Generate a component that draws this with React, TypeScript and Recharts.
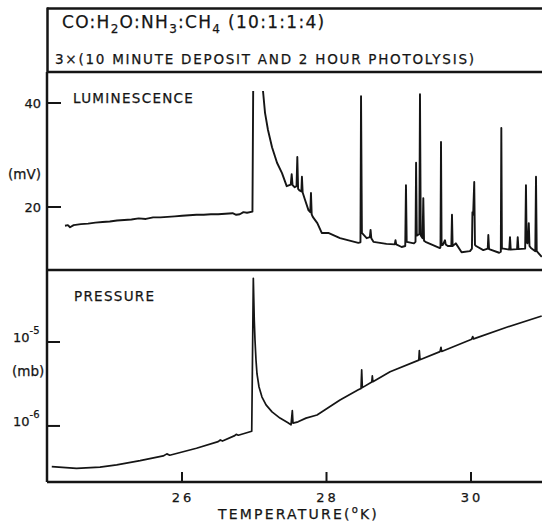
import React from 'react';
import { LineChart, Line, XAxis, YAxis } from 'recharts';

const FONT = '"DejaVu Sans", "Liberation Sans", sans-serif';
const INK = '#151515';

// Temperature axis (K)
const xDomain: [number, number] = [24.131, 30.983];
const xTicks = [26, 28, 30];
const xTickLabels = ['26', '28', '30'];

// Luminescence panel (mV)
const lumDomain: [number, number] = [7.88, 45.96];
const lumTicks = [20, 40];
const lumTemp = [
  24.38, 24.42, 24.45, 24.5, 24.55, 24.6, 24.7, 24.8, 24.9, 25.0, 25.1, 25.2, 25.3, 25.4, 25.5,
  25.6, 25.7, 25.8, 25.9, 26.0, 26.1, 26.2, 26.3, 26.4, 26.5, 26.6, 26.7, 26.75, 26.8, 26.85,
  26.9, 26.975,
  26.985, 27.05, 27.121, 27.149, 27.19, 27.246, 27.315, 27.384, 27.449,
  27.505, 27.518, 27.53, 27.56, 27.585, 27.596, 27.607, 27.625, 27.652, 27.66, 27.67, 27.7,
  27.75, 27.775, 27.785, 27.795, 27.81, 27.873, 27.934, 28.025, 28.187, 28.44,
  28.47, 28.478, 28.49, 28.556, 28.6, 28.61, 28.62, 28.65, 28.83, 28.945, 28.955, 28.965,
  29.04, 29.09, 29.1, 29.11, 29.21, 29.232, 29.24, 29.25, 29.285, 29.294, 29.305, 29.33, 29.34,
  29.35, 29.37, 29.57, 29.578, 29.585, 29.593, 29.61, 29.64, 29.65, 29.68, 29.728, 29.737,
  29.746, 29.79, 29.87, 29.986, 30.013, 30.02, 30.03, 30.045, 30.055, 30.07, 30.17, 30.232,
  30.24, 30.25, 30.39, 30.413, 30.42, 30.428, 30.45, 30.53, 30.54, 30.55, 30.638, 30.647,
  30.657, 30.75, 30.761, 30.77, 30.78, 30.79, 30.8, 30.81, 30.83, 30.89, 30.9, 30.91, 30.98,
];
const lumMv: (number | null)[] = [
  16.4, 16.5, 16.1, 16.5, 16.6, 16.7, 16.8, 17.0, 17.1, 17.2, 17.4, 17.5, 17.6, 17.8, 17.7,
  18.0, 18.0, 18.1, 18.2, 18.3, 18.4, 18.5, 18.5, 18.6, 18.6, 18.7, 18.8, 18.5, 18.6, 19.0,
  18.9, 19.1,
  42.3, null, 42.3, 38.1, 34.8, 31.5, 28.5, 26.5, 24.0,
  24.3, 26.3, 24.2, 23.8, 24.0, 29.6, 23.5, 23.2, 23.0, 25.8, 22.8, 21.5,
  19.4, 19.0, 22.7, 18.6, 18.1, 16.9, 15.0, 15.0, 14.0, 13.1,
  13.2, 41.3, 15.0, 14.0, 14.2, 15.6, 14.0, 13.3, 12.9, 12.8, 13.6, 12.8,
  12.3, 12.5, 24.2, 13.3, 13.0, 13.3, 28.5, 14.5, 14.8, 41.7, 14.5, 14.0, 21.7,
  13.5, 13.3, 12.1, 12.3, 32.5, 12.7, 12.7, 13.6, 12.8, 12.5, 12.5, 18.5,
  12.5, 13.0, 11.3, 11.5, 12.0, 19.0, 18.5, 24.8, 12.7, 12.5, 11.7, 12.0,
  14.6, 11.9, 11.2, 11.4, 35.2, 12.0, 12.0, 11.8, 14.2, 11.8, 11.9, 14.2,
  11.9, 12.0, 24.2, 14.0, 13.0, 13.5, 16.9, 12.5, 12.1, 11.5, 25.8, 11.5, 10.4,
];

// Pressure panel (mb, log scale)
const presDomain: [number, number] = [2.15e-7, 7.2e-5];
const presTicks = [1e-6, 1e-5];
const presTickExp = ['-6', '-5'];
const presTemp = [
  24.197, 24.54, 24.865, 25.096, 25.42, 25.74, 25.79, 25.83, 26.2, 26.5, 26.53, 26.56, 26.73,
  26.75, 26.78, 26.965, 26.987, 27.0, 27.01, 27.024, 27.038, 27.066, 27.107, 27.163, 27.246,
  27.356, 27.467, 27.509, 27.527, 27.536, 27.606, 27.716, 27.869, 28.187, 28.44, 28.478,
  28.487, 28.496, 28.627, 28.634, 28.642, 28.88, 29.278, 29.285, 29.294, 29.571, 29.585,
  29.594, 30.01, 30.024, 30.036, 30.494, 30.979,
];
const presMb = [
  3.28e-7, 3.13e-7, 3.24e-7, 3.44e-7, 3.86e-7, 4.4e-7, 4.65e-7, 4.48e-7, 5.42e-7, 6.5e-7, 6.81e-7,
  6.61e-7, 7.67e-7, 7.94e-7, 7.76e-7, 8.65e-7, 5.73e-5, 1.83e-5, 1.06e-5, 6.11e-6, 4.16e-6,
  2.91e-6, 2.21e-6, 1.78e-6, 1.47e-6, 1.24e-6, 1.09e-6, 1.03e-6, 1.52e-6, 1.08e-6, 1.12e-6,
  1.24e-6, 1.35e-6, 2.04e-6, 2.69e-6, 2.8e-6, 4.65e-6, 2.86e-6, 3.33e-6, 3.94e-6, 3.37e-6,
  4.43e-6, 6.08e-6, 7.87e-6, 6.15e-6, 7.67e-6, 8.65e-6, 7.72e-6, 1.08e-5, 1.16e-5, 1.09e-5,
  1.5e-5, 2.04e-5,
];

const lumData = lumTemp.map((t, i) => ({ t, v: lumMv[i] }));
const presData = presTemp.map((t, i) => ({ t, p: presMb[i] }));

const textInk = { fill: INK, stroke: INK, strokeWidth: 0.25 };

const LumTick = (props: any) => {
  const { x, y, payload } = props;
  return (
    <g>
      <line x1={x} x2={x + 14} y1={y} y2={y} stroke={INK} strokeWidth={2} />
      <text x={x - 6} y={y + 5} textAnchor="end" fontFamily={FONT} fontSize={13} {...textInk}>
        {payload.value}
      </text>
    </g>
  );
};

const PresTick = (props: any) => {
  const { x, y, payload, index } = props;
  const exp = presTickExp[presTicks.indexOf(payload.value)] ?? presTickExp[index];
  return (
    <g>
      <line x1={x} x2={x + 13} y1={y} y2={y} stroke={INK} strokeWidth={2} />
      <text x={x - 34} y={y} fontFamily={FONT} fontSize={13} {...textInk}>
        10
        <tspan dy={-8} fontSize={10}>{exp}</tspan>
      </text>
    </g>
  );
};

const XTick = (props: any) => {
  const { x, y, payload } = props;
  const label = xTickLabels[xTicks.indexOf(payload.value)] ?? String(payload.value);
  return (
    <g>
      <line x1={x} x2={x} y1={y} y2={y - 10} stroke={INK} strokeWidth={2} />
      <text x={x + 1} y={y + 20} textAnchor="middle" fontFamily={FONT} fontSize={13} letterSpacing={3} {...textInk}>
        {label}
      </text>
    </g>
  );
};

export default function App() {
  return (
    <div style={{ position: 'absolute', left: 0, top: 0, width: 542, height: 522, background: '#fff' }}>
      <div style={{ position: 'absolute', left: 0, top: 0 }}>
        <LineChart width={542} height={270} data={lumData} margin={{ top: 72, right: 0, bottom: 0, left: 0 }}>
          <XAxis dataKey="t" type="number" domain={xDomain} allowDataOverflow hide />
          <YAxis
            type="number"
            domain={lumDomain}
            allowDataOverflow
            ticks={lumTicks}
            width={47}
            tickSize={0}
            tickMargin={0}
            tickLine={false}
            axisLine={{ stroke: INK, strokeWidth: 2.5 }}
            tick={<LumTick />}
            interval={0}
          />
          <Line
            dataKey="v"
            type="linear"
            dot={false}
            stroke={INK}
            strokeWidth={1.9}
            strokeLinejoin="round"
            connectNulls={false}
            isAnimationActive={false}
          />
        </LineChart>
      </div>
      <div style={{ position: 'absolute', left: 0, top: 270 }}>
        <LineChart width={542} height={252} data={presData} margin={{ top: 0, right: 0, bottom: 0, left: 0 }}>
          <XAxis
            dataKey="t"
            type="number"
            domain={xDomain}
            allowDataOverflow
            ticks={xTicks}
            height={40}
            tickSize={0}
            tickMargin={0}
            tickLine={false}
            axisLine={{ stroke: INK, strokeWidth: 2.5 }}
            tick={<XTick />}
            interval={0}
          />
          <YAxis
            type="number"
            scale="log"
            domain={presDomain}
            allowDataOverflow
            ticks={presTicks}
            width={47}
            tickSize={0}
            tickMargin={0}
            tickLine={false}
            axisLine={{ stroke: INK, strokeWidth: 2.5 }}
            tick={<PresTick />}
            interval={0}
          />
          <Line
            dataKey="p"
            type="linear"
            dot={false}
            stroke={INK}
            strokeWidth={1.7}
            strokeLinejoin="round"
            isAnimationActive={false}
          />
        </LineChart>
      </div>
      <svg
        width={542}
        height={522}
        style={{ position: 'absolute', left: 0, top: 0, pointerEvents: 'none' }}
      >
        <line x1={47} x2={542} y1={8.5} y2={8.5} stroke={INK} strokeWidth={2.5} />
        <line x1={47.5} x2={47.5} y1={7.5} y2={72} stroke={INK} strokeWidth={2.5} />
        <line x1={47} x2={542} y1={72} y2={72} stroke={INK} strokeWidth={2.5} />
        <line x1={47} x2={542} y1={270} y2={270} stroke={INK} strokeWidth={2.5} />
        <text x={62} y={28} fontFamily={FONT} fontSize={17} letterSpacing={1.3} {...textInk}>
          CO:H<tspan dy={5} fontSize={12}>2</tspan>
          <tspan dy={-5}>O:NH</tspan>
          <tspan dy={5} fontSize={12}>3</tspan>
          <tspan dy={-5}>:CH</tspan>
          <tspan dy={5} fontSize={12}>4</tspan>
          <tspan dy={-5}> (10:1:1:4)</tspan>
        </text>
        <text x={55} y={64} fontFamily={FONT} fontSize={13.5} letterSpacing={1.75} {...textInk}>
          3×(10 MINUTE DEPOSIT AND 2 HOUR PHOTOLYSIS)
        </text>
        <text x={73} y={103} fontFamily={FONT} fontSize={13.5} letterSpacing={1.3} {...textInk}>
          LUMINESCENCE
        </text>
        <text x={74} y={301} fontFamily={FONT} fontSize={13.5} letterSpacing={1.3} {...textInk}>
          PRESSURE
        </text>
        <text x={8} y={179} fontFamily={FONT} fontSize={13.5} {...textInk}>
          (mV)
        </text>
        <text x={12} y={376} fontFamily={FONT} fontSize={13.5} {...textInk}>
          (mb)
        </text>
        <text x={218} y={519} fontFamily={FONT} fontSize={14} letterSpacing={2.2} {...textInk}>
          TEMPERATURE(<tspan dy={-6} fontSize={10}>o</tspan>
          <tspan dy={6}>K)</tspan>
        </text>
      </svg>
    </div>
  );
}
